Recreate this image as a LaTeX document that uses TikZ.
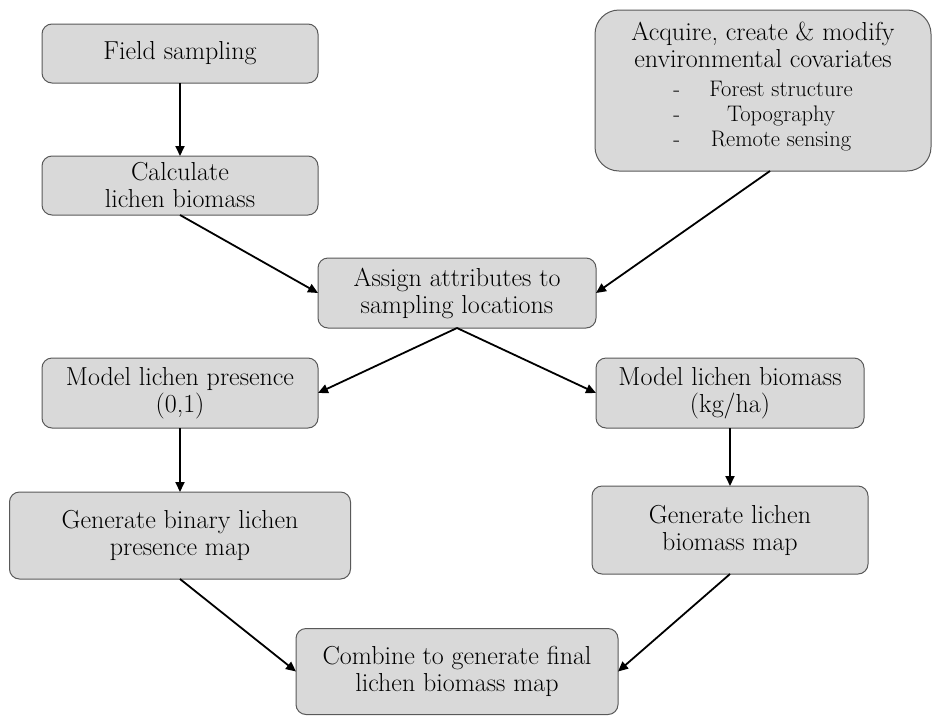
\documentclass[tikz,border=0pt]{standalone}
\usepackage{fontspec}
\usetikzlibrary{arrows.meta}

\definecolor{boxfill}{HTML}{D9D9D9}
\definecolor{boxline}{HTML}{595959}

\tikzset{
  stepbox/.style={draw=boxline, fill=boxfill, line width=1pt, rounded corners=10pt,
    align=center, inner sep=2pt, outer sep=0pt, font=\fontsize{26}{27}\selectfont},
  flow/.style={-{Triangle[length=10pt,width=9pt]}, line width=1.8pt}
}

\begin{document}
\begin{tikzpicture}[x=1pt,y=-1pt]
  \useasboundingbox (0,0) rectangle (933,715);

  % Top row
  \node[stepbox, minimum width=276pt, minimum height=59pt] (field) at (180,53.5) {Field sampling};
  \node[stepbox, minimum width=276pt, minimum height=59pt] (calc) at (180,185.5) {Calculate\\lichen biomass};
  \node[stepbox, rounded corners=24pt, minimum width=336pt, minimum height=161pt] (acquire) at (763,90.5)
    {Acquire, create \& modify\\environmental covariates\\[2pt]
     {\fontsize{22.5}{25}\selectfont
      \begin{tabular}[t]{@{}l@{\hspace{1.3em}}c@{}}
        - & Forest structure\\
        - & Topography\\
        - & Remote sensing\rule[-13pt]{0pt}{13pt}
      \end{tabular}}};

  % Middle
  \node[stepbox, minimum width=278pt, minimum height=70pt] (assign) at (457,293) {Assign attributes to\\sampling locations};

  % Model boxes
  \node[stepbox, minimum width=276pt, minimum height=70pt] (presence) at (180,393) {Model lichen presence\\(0,1)};
  \node[stepbox, minimum width=268pt, minimum height=70pt] (biomass) at (730,393) {Model lichen biomass\\(kg/ha)};

  % Maps
  \node[stepbox, minimum width=341pt, minimum height=87pt] (binmap) at (180,535.5) {Generate binary lichen\\presence map};
  \node[stepbox, minimum width=276pt, minimum height=88pt] (biomap) at (730,530) {Generate lichen\\biomass map};

  % Final
  \node[stepbox, minimum width=322pt, minimum height=86pt] (final) at (457,671.5) {Combine to generate final\\lichen biomass map};

  % Connectors
  \draw[flow] (field.south) -- (calc.north);
  \draw[flow] (calc.south) -- (assign.west);
  \draw[flow] ([xshift=7pt]acquire.south) -- (assign.east);
  \draw[flow] (assign.south) -- (presence.east);
  \draw[flow] (assign.south) -- (biomass.west);
  \draw[flow] (presence.south) -- (binmap.north);
  \draw[flow] (biomass.south) -- (biomap.north);
  \draw[flow] (binmap.south) -- (final.west);
  \draw[flow] (biomap.south) -- (final.east);
\end{tikzpicture}
\end{document}
